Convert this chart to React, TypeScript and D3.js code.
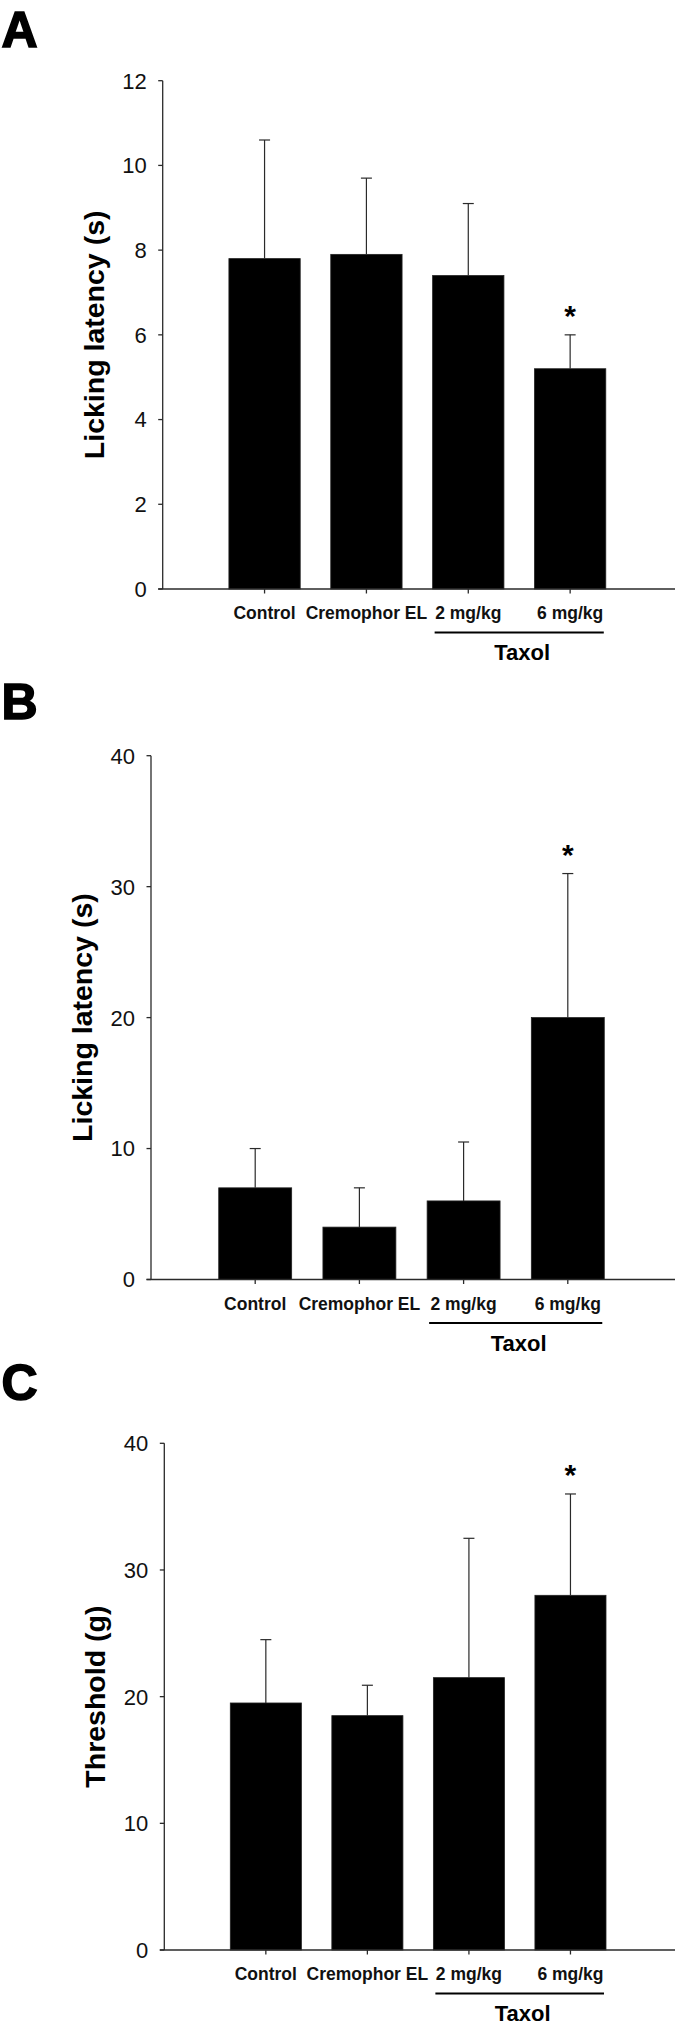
import React from "react";
import * as d3 from "d3";

const categories = ["Control", "Cremophor EL", "2 mg/kg", "6 mg/kg"];
const significant = [false, false, false, true];
const groupLabel = "Taxol";
const groupMembers = ["2 mg/kg", "6 mg/kg"];

const panelAMeans = [7.8, 7.9, 7.4, 5.2];
const panelAErrors = [2.8, 1.8, 1.7, 0.8];
const panelATicks = [0, 2, 4, 6, 8, 10, 12];

const panelBMeans = [7, 4, 6, 20];
const panelBErrors = [3, 3, 4.5, 11];
const panelBTicks = [0, 10, 20, 30, 40];

const panelCMeans = [19.5, 18.5, 21.5, 28];
const panelCErrors = [5, 2.4, 11, 8];
const panelCTicks = [0, 10, 20, 30, 40];

const FONT = "'Liberation Sans', Arial, Helvetica, sans-serif";

type PanelProps = {
  letter: string;
  letterY: number;
  yLabel: string;
  means: number[];
  errors: number[];
  ticks: number[];
  axisX: number;
  yZero: number;
  yTop: number;
};

function Panel({ letter, letterY, yLabel, means, errors, ticks, axisX, yZero, yTop }: PanelProps) {
  const yMax = ticks[ticks.length - 1];
  const y = d3.scaleLinear().domain([0, yMax]).range([yZero, yTop]);
  const x = d3
    .scaleBand<string>()
    .domain(categories)
    .range([axisX, 672])
    .paddingInner(0.3)
    .paddingOuter(0.65);
  const bw = x.bandwidth();
  const stroke = "#2a2a2a";
  const g0 = x(groupMembers[0])! + 2;
  const g1 = x(groupMembers[groupMembers.length - 1])! + bw - 2;

  return (
    <g>
      <text
        x={1.5}
        y={letterY}
        fontFamily={FONT}
        fontWeight="bold"
        fontSize={50}
        fill="#000"
        stroke="#000"
        strokeWidth={1.6}
      >
        {letter}
      </text>
      {/* bars */}
      {categories.map((c, i) => {
        const x0 = x(c)!;
        const top = y(means[i]);
        const errTop = y(means[i] + errors[i]);
        const cx = x0 + bw / 2;
        return (
          <g key={c}>
            <rect x={x0} y={top} width={bw} height={yZero - top} fill="#000" stroke="#222" strokeWidth={0.8} />
            <line x1={cx} x2={cx} y1={top} y2={errTop} stroke={stroke} strokeWidth={1.2} />
            <line x1={cx - 5.5} x2={cx + 5.5} y1={errTop} y2={errTop} stroke={stroke} strokeWidth={1.2} />
            {significant[i] && (
              <text x={cx} y={errTop - 9} textAnchor="middle" fontFamily={FONT} fontWeight="bold" fontSize={30} fill="#000">
                *
              </text>
            )}
          </g>
        );
      })}
      {/* y axis */}
      <line x1={axisX} x2={axisX} y1={yTop} y2={yZero} stroke={stroke} strokeWidth={1.3} />
      {ticks.map((t) => (
        <g key={t}>
          <line x1={axisX - 4.5} x2={axisX} y1={y(t)} y2={y(t)} stroke={stroke} strokeWidth={1.3} />
          <text x={axisX - 16} y={y(t)} dy="0.36em" textAnchor="end" fontFamily={FONT} fontSize={22} fill="#111">
            {t}
          </text>
        </g>
      ))}
      {/* x axis */}
      <line x1={axisX - 4.5} x2={675} y1={yZero} y2={yZero} stroke={stroke} strokeWidth={1.3} />
      {categories.map((c) => {
        const cx = x(c)! + bw / 2;
        return (
          <g key={c}>
            <line x1={cx} x2={cx} y1={yZero} y2={yZero + 4.5} stroke={stroke} strokeWidth={1.3} />
            <text x={cx} y={yZero + 30} textAnchor="middle" fontFamily={FONT} fontWeight="bold" fontSize={17.5} fill="#111">
              {c}
            </text>
          </g>
        );
      })}
      <line x1={g0} x2={g1} y1={yZero + 43.5} y2={yZero + 43.5} stroke="#000" strokeWidth={2} />
      <text x={(g0 + g1) / 2 + 3} y={yZero + 71} textAnchor="middle" fontFamily={FONT} fontWeight="bold" fontSize={22} fill="#000">
        {groupLabel}
      </text>
      {/* y label */}
      <text
        transform={`translate(${axisX - 69},${(yTop + yZero) / 2}) rotate(-90)`}
        textAnchor="middle"
        dy="0.35em"
        fontFamily={FONT}
        fontWeight="bold"
        fontSize={28.5}
        fill="#000"
      >
        {yLabel}
      </text>
    </g>
  );
}

export default function App() {
  return (
    <svg
      width={675}
      height={2025}
      viewBox="0 0 675 2025"
      style={{ position: "absolute", left: 0, top: 0, background: "#fff" }}
    >
      <rect x={0} y={0} width={675} height={2025} fill="#fff" />
      <Panel
        letter="A"
        letterY={46.5}
        yLabel="Licking latency (s)"
        means={panelAMeans}
        errors={panelAErrors}
        ticks={panelATicks}
        axisX={162.7}
        yZero={589}
        yTop={80.7}
      />
      <Panel
        letter="B"
        letterY={719}
        yLabel="Licking latency (s)"
        means={panelBMeans}
        errors={panelBErrors}
        ticks={panelBTicks}
        axisX={151}
        yZero={1279.5}
        yTop={755.7}
      />
      <Panel
        letter="C"
        letterY={1400}
        yLabel="Threshold (g)"
        means={panelCMeans}
        errors={panelCErrors}
        ticks={panelCTicks}
        axisX={164.3}
        yZero={1950}
        yTop={1443.3}
      />
    </svg>
  );
}
